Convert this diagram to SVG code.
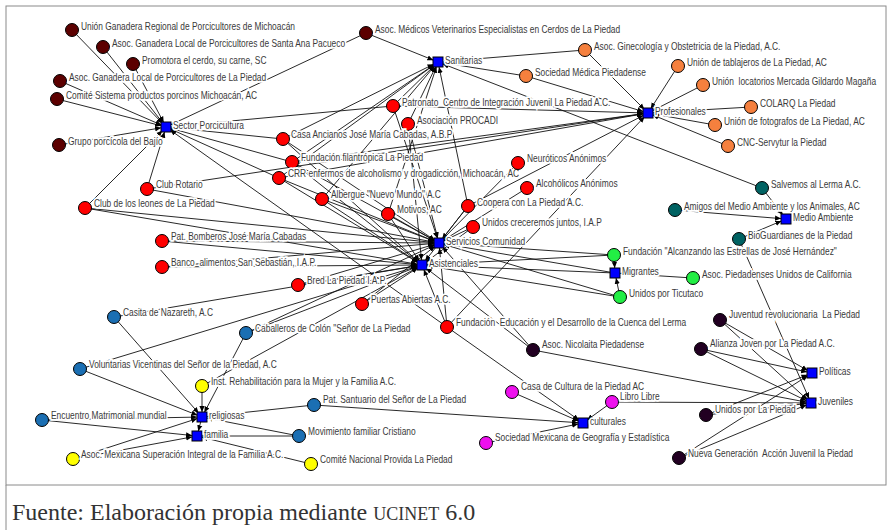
<svg xmlns="http://www.w3.org/2000/svg" width="890" height="530" viewBox="0 0 890 530">
<defs>
<marker id="arr" viewBox="0 0 6 6" refX="11" refY="3" markerWidth="6" markerHeight="6" markerUnits="userSpaceOnUse" orient="auto"><path d="M0,0.4 L6,3 L0,5.6 Z" fill="#000"/></marker>
<style>
.e line{stroke:#111;stroke-width:.9;fill:none}
.e .a line{marker-end:url(#arr)}
.n circle{stroke:#000;stroke-width:1}
.h rect{fill:#0000ff;stroke:#000;stroke-width:1}
.lb{font-family:"Liberation Sans",Arial,sans-serif;font-size:10px;fill:#3a3a3a;stroke:#fff;stroke-width:3.6;stroke-linejoin:miter;paint-order:stroke;white-space:pre}
.c1{fill:#5c0000}
.c2{fill:#ff0000}
.c3{fill:#f5803e}
.c4{fill:#006262}
.c5{fill:#22ee44}
.c6{fill:#1b6fb3}
.c7{fill:#ffff00}
.c8{fill:#ee10ee}
.c9{fill:#220022}
</style>
</defs>
<rect x="0" y="0" width="890" height="530" fill="#fff"/>
<rect x="6" y="6" width="880" height="479" fill="none" stroke="#8a8a8a"/>
<line x1="6" y1="485" x2="6" y2="530" stroke="#8a8a8a"/>

<g id="connectors" class="e">
<g class="a">
<!-- Sector Porcicultura -->
<line x1="72" y1="30" x2="166" y2="127"/>
<line x1="103" y1="47" x2="166" y2="127"/>
<line x1="133" y1="64" x2="166" y2="127"/>
<line x1="60" y1="81" x2="166" y2="127"/>
<line x1="57" y1="99" x2="166" y2="127"/>
<line x1="59" y1="145" x2="166" y2="127"/>
<line x1="366" y1="33" x2="166" y2="127"/>
<line x1="393" y1="106" x2="166" y2="127"/>
<line x1="283" y1="139" x2="166" y2="127"/>
<line x1="292" y1="162" x2="166" y2="127"/>
<line x1="279" y1="178" x2="166" y2="127"/>
<line x1="147" y1="189" x2="166" y2="127"/>
<line x1="85" y1="208" x2="166" y2="127"/>
<line x1="447" y1="327" x2="166" y2="127"/>
<!-- Sanitarias -->
<line x1="366" y1="33" x2="438" y2="62"/>
<line x1="585" y1="50" x2="438" y2="62"/>
<line x1="526" y1="76" x2="438" y2="62"/>
<line x1="762" y1="188" x2="438" y2="62"/>
<line x1="393" y1="106" x2="438" y2="62"/>
<line x1="408" y1="124" x2="438" y2="62"/>
<line x1="283" y1="139" x2="438" y2="62"/>
<line x1="292" y1="162" x2="438" y2="62"/>
<line x1="279" y1="178" x2="438" y2="62"/>
<line x1="322" y1="199" x2="438" y2="62"/>
<line x1="388" y1="214" x2="438" y2="62"/>
<line x1="468" y1="206" x2="438" y2="62"/>
<!-- Profesionales -->
<line x1="585" y1="50" x2="648" y2="113"/>
<line x1="526" y1="76" x2="648" y2="113"/>
<line x1="678" y1="66" x2="648" y2="113"/>
<line x1="703" y1="85" x2="648" y2="113"/>
<line x1="751" y1="107" x2="648" y2="113"/>
<line x1="715" y1="125" x2="648" y2="113"/>
<line x1="728" y1="146" x2="648" y2="113"/>
<line x1="393" y1="106" x2="648" y2="113"/>
<line x1="292" y1="162" x2="648" y2="113"/>
<line x1="279" y1="178" x2="648" y2="113"/>
<line x1="147" y1="189" x2="648" y2="113"/>
<line x1="447" y1="327" x2="648" y2="113"/>
<line x1="468" y1="206" x2="648" y2="113"/>
<!-- Medio Ambiente -->
<line x1="762" y1="188" x2="786" y2="219"/>
<line x1="675" y1="210" x2="786" y2="219"/>
<line x1="739" y1="239" x2="786" y2="219"/>
<!-- Migrantes -->
<line x1="614" y1="255" x2="615" y2="273"/>
<line x1="693" y1="278" x2="615" y2="273"/>
<line x1="620" y1="297" x2="615" y2="273"/>
<!-- Servicios Comunidad -->
<line x1="393" y1="106" x2="439" y2="243"/>
<line x1="408" y1="124" x2="439" y2="243"/>
<line x1="283" y1="139" x2="439" y2="243"/>
<line x1="292" y1="162" x2="439" y2="243"/>
<line x1="279" y1="178" x2="439" y2="243"/>
<line x1="322" y1="199" x2="439" y2="243"/>
<line x1="388" y1="214" x2="439" y2="243"/>
<line x1="468" y1="206" x2="439" y2="243"/>
<line x1="473" y1="227" x2="439" y2="243"/>
<line x1="518" y1="163" x2="439" y2="243"/>
<line x1="527" y1="188" x2="439" y2="243"/>
<line x1="147" y1="189" x2="439" y2="243"/>
<line x1="85" y1="208" x2="439" y2="243"/>
<line x1="162" y1="241" x2="439" y2="243"/>
<line x1="162" y1="267" x2="439" y2="243"/>
<line x1="298" y1="285" x2="439" y2="243"/>
<line x1="362" y1="304" x2="439" y2="243"/>
<line x1="447" y1="327" x2="439" y2="243"/>
<line x1="614" y1="255" x2="439" y2="243"/>
<line x1="620" y1="297" x2="439" y2="243"/>
<line x1="533" y1="350" x2="439" y2="243"/>
<line x1="246" y1="333" x2="439" y2="243"/>
<!-- Asistenciales -->
<line x1="408" y1="124" x2="422" y2="265"/>
<line x1="283" y1="139" x2="422" y2="265"/>
<line x1="292" y1="162" x2="422" y2="265"/>
<line x1="279" y1="178" x2="422" y2="265"/>
<line x1="322" y1="199" x2="422" y2="265"/>
<line x1="388" y1="214" x2="422" y2="265"/>
<line x1="468" y1="206" x2="422" y2="265"/>
<line x1="473" y1="227" x2="422" y2="265"/>
<line x1="85" y1="208" x2="422" y2="265"/>
<line x1="162" y1="241" x2="422" y2="265"/>
<line x1="162" y1="267" x2="422" y2="265"/>
<line x1="298" y1="285" x2="422" y2="265"/>
<line x1="362" y1="304" x2="422" y2="265"/>
<line x1="447" y1="327" x2="422" y2="265"/>
<line x1="114" y1="317" x2="422" y2="265"/>
<line x1="246" y1="333" x2="422" y2="265"/>
<line x1="80" y1="369" x2="422" y2="265"/>
<line x1="202" y1="386" x2="422" y2="265"/>
<line x1="614" y1="255" x2="422" y2="265"/>
<line x1="620" y1="297" x2="422" y2="265"/>
<line x1="533" y1="350" x2="422" y2="265"/>
<!-- religiosas -->
<line x1="114" y1="317" x2="202" y2="417"/>
<line x1="246" y1="333" x2="202" y2="417"/>
<line x1="80" y1="369" x2="202" y2="417"/>
<line x1="42" y1="420" x2="202" y2="417"/>
<line x1="299" y1="436" x2="202" y2="417"/>
<line x1="314" y1="405" x2="202" y2="417"/>
<line x1="202" y1="386" x2="202" y2="417"/>
<line x1="73" y1="459" x2="202" y2="417"/>
<!-- familia -->
<line x1="42" y1="420" x2="197" y2="436"/>
<line x1="299" y1="436" x2="197" y2="436"/>
<line x1="73" y1="459" x2="197" y2="436"/>
<line x1="311" y1="464" x2="197" y2="436"/>
<line x1="202" y1="417" x2="197" y2="436"/>
<!-- culturales -->
<line x1="512" y1="392" x2="583" y2="423"/>
<line x1="486" y1="443" x2="583" y2="423"/>
<line x1="612" y1="402" x2="583" y2="423"/>
<line x1="314" y1="405" x2="583" y2="423"/>
<line x1="447" y1="327" x2="583" y2="423"/>
<!-- Politicas -->
<line x1="720" y1="320" x2="812" y2="373"/>
<line x1="701" y1="349" x2="812" y2="373"/>
<line x1="706" y1="415" x2="812" y2="373"/>
<line x1="679" y1="458" x2="812" y2="373"/>
<!-- Juveniles -->
<line x1="720" y1="320" x2="811" y2="403"/>
<line x1="701" y1="349" x2="811" y2="403"/>
<line x1="706" y1="415" x2="811" y2="403"/>
<line x1="679" y1="458" x2="811" y2="403"/>
<line x1="533" y1="350" x2="811" y2="403"/>
<line x1="612" y1="402" x2="811" y2="403"/>
<line x1="739" y1="239" x2="811" y2="403"/>
</g>
<line x1="439" y1="243" x2="615" y2="273"/>
<line x1="422" y1="265" x2="615" y2="273"/>
</g>

<!-- circle nodes -->
<g id="n-ugr" class="n"><circle class="c1" cx="72" cy="30" r="6.5"/><text class="lb" transform="matrix(.84 0 0 1 81 30)">Unión Ganadera Regional de Porcicultores de Michoacán</text></g>
<g id="n-agsa" class="n"><circle class="c1" cx="103" cy="47" r="6.5"/><text class="lb" transform="matrix(.84 0 0 1 112 47)">Asoc. Ganadera Local de Porcicultores de Santa Ana Pacueco</text></g>
<g id="n-prom" class="n"><circle class="c1" cx="133" cy="64" r="6.5"/><text class="lb" transform="matrix(.84 0 0 1 142 64)">Promotora el cerdo, su carne, SC</text></g>
<g id="n-aglp" class="n"><circle class="c1" cx="60" cy="81" r="6.5"/><text class="lb" transform="matrix(.84 0 0 1 69 81)">Asoc. Ganadera Local de Porcicultores de La Piedad</text></g>
<g id="n-csp" class="n"><circle class="c1" cx="57" cy="99" r="6.5"/><text class="lb" transform="matrix(.84 0 0 1 66 99)">Comité Sistema productos porcinos Michoacán, AC</text></g>
<g id="n-gpb" class="n"><circle class="c1" cx="59" cy="145" r="6.5"/><text class="lb" transform="matrix(.84 0 0 1 68 145)">Grupo porcícola del Bajío</text></g>
<g id="n-amv" class="n"><circle class="c1" cx="366" cy="33" r="6.5"/><text class="lb" transform="matrix(.84 0 0 1 375 33)">Asoc. Médicos Veterinarios Especialistas en Cerdos de La Piedad</text></g>

<g id="n-gine" class="n"><circle class="c3" cx="585" cy="50" r="6.5"/><text class="lb" transform="matrix(.84 0 0 1 594 50)">Asoc. Ginecología y Obstetricia de la Piedad, A.C.</text></g>
<g id="n-smp" class="n"><circle class="c3" cx="526" cy="76" r="6.5"/><text class="lb" transform="matrix(.84 0 0 1 535 76)">Sociedad Médica Piedadense</text></g>
<g id="n-tabl" class="n"><circle class="c3" cx="678" cy="66" r="6.5"/><text class="lb" transform="matrix(.84 0 0 1 687 66)">Unión de tablajeros de La Piedad, AC</text></g>
<g id="n-loca" class="n"><circle class="c3" cx="703" cy="85" r="6.5"/><text class="lb" transform="matrix(.84 0 0 1 712 85)">Unión  locatorios Mercada Gildardo Magaña</text></g>
<g id="n-colarq" class="n"><circle class="c3" cx="751" cy="107" r="6.5"/><text class="lb" transform="matrix(.84 0 0 1 760 107)">COLARQ La Piedad</text></g>
<g id="n-foto" class="n"><circle class="c3" cx="715" cy="125" r="6.5"/><text class="lb" transform="matrix(.84 0 0 1 724 125)">Unión de fotografos de La Piedad, AC</text></g>
<g id="n-cnc" class="n"><circle class="c3" cx="728" cy="146" r="6.5"/><text class="lb" transform="matrix(.84 0 0 1 737 146)">CNC-Servytur la Piedad</text></g>

<g id="n-salv" class="n"><circle class="c4" cx="762" cy="188" r="6.5"/><text class="lb" transform="matrix(.84 0 0 1 771 188)">Salvemos al Lerma A.C.</text></g>
<g id="n-amig" class="n"><circle class="c4" cx="675" cy="210" r="6.5"/><text class="lb" transform="matrix(.84 0 0 1 684 210)">Amigos del Medio Ambiente y los Animales, AC</text></g>
<g id="n-biog" class="n"><circle class="c4" cx="739" cy="239" r="6.5"/><text class="lb" transform="matrix(.84 0 0 1 748 239)">BioGuardianes de la Piedad</text></g>

<g id="n-falc" class="n"><circle class="c5" cx="614" cy="255" r="6.5"/><text class="lb" transform="matrix(.84 0 0 1 623 255)">Fundación "Alcanzando las Estrellas de José Hernández"</text></g>
<g id="n-apuc" class="n"><circle class="c5" cx="693" cy="278" r="6.5"/><text class="lb" transform="matrix(.84 0 0 1 702 278)">Asoc. Piedadenses Unidos de California</text></g>
<g id="n-tic" class="n"><circle class="c5" cx="620" cy="297" r="6.5"/><text class="lb" transform="matrix(.84 0 0 1 629 297)">Unidos por Ticutaco</text></g>

<g id="n-patr" class="n"><circle class="c2" cx="393" cy="106" r="6.5"/><text class="lb" transform="matrix(.84 0 0 1 402 106)">Patronato  Centro de Integración Juvenil La Piedad A.C.</text></g>
<g id="n-proc" class="n"><circle class="c2" cx="408" cy="124" r="6.5"/><text class="lb" transform="matrix(.84 0 0 1 417 124)">Asociación PROCADI</text></g>
<g id="n-casa" class="n"><circle class="c2" cx="283" cy="139" r="6.5"/><text class="lb" transform="matrix(.84 0 0 1 291 138)">Casa Ancianos José María Cabadas, A.B.P</text></g>
<g id="n-ffil" class="n"><circle class="c2" cx="292" cy="162" r="6.5"/><text class="lb" transform="matrix(.84 0 0 1 301 161)">Fundación filantrópica La Piedad</text></g>
<g id="n-crr" class="n"><circle class="c2" cx="279" cy="178" r="6.5"/><text class="lb" transform="matrix(.84 0 0 1 288 177)">CRR enfermos de alcoholismo y drogadicción, Michoacán, AC</text></g>
<g id="n-alb" class="n"><circle class="c2" cx="322" cy="199" r="6.5"/><text class="lb" transform="matrix(.84 0 0 1 331 198)">Albergue "Nuevo Mundo" A.C</text></g>
<g id="n-mot" class="n"><circle class="c2" cx="388" cy="214" r="6.5"/><text class="lb" transform="matrix(.84 0 0 1 397 213)">Motivos, AC</text></g>
<g id="n-coop" class="n"><circle class="c2" cx="468" cy="206" r="6.5"/><text class="lb" transform="matrix(.84 0 0 1 477 206)">Coopera con La Piedad A.C.</text></g>
<g id="n-ucj" class="n"><circle class="c2" cx="473" cy="227" r="6.5"/><text class="lb" transform="matrix(.84 0 0 1 482 226)">Unidos creceremos juntos, I.A.P</text></g>
<g id="n-neu" class="n"><circle class="c2" cx="518" cy="163" r="6.5"/><text class="lb" transform="matrix(.84 0 0 1 527 162)">Neuróticos Anónimos</text></g>
<g id="n-alc" class="n"><circle class="c2" cx="527" cy="188" r="6.5"/><text class="lb" transform="matrix(.84 0 0 1 536 187)">Alcohólicos Anónimos</text></g>
<g id="n-rot" class="n"><circle class="c2" cx="147" cy="189" r="6.5"/><text class="lb" transform="matrix(.84 0 0 1 156 188)">Club Rotario</text></g>
<g id="n-leo" class="n"><circle class="c2" cx="85" cy="208" r="6.5"/><text class="lb" transform="matrix(.84 0 0 1 94 207)">Club de los leones de La Piedad</text></g>
<g id="n-bomb" class="n"><circle class="c2" cx="162" cy="241" r="6.5"/><text class="lb" transform="matrix(.84 0 0 1 171 240)">Pat. Bomberos José María Cabadas</text></g>
<g id="n-banco" class="n"><circle class="c2" cx="162" cy="267" r="6.5"/><text class="lb" transform="matrix(.84 0 0 1 171 266)">Banco  alimentos San Sebastián, I.A.P.</text></g>
<g id="n-bred" class="n"><circle class="c2" cx="298" cy="285" r="6.5"/><text class="lb" transform="matrix(.84 0 0 1 307 284)">Bred La Piedad I.A.P.</text></g>
<g id="n-puer" class="n"><circle class="c2" cx="362" cy="304" r="6.5"/><text class="lb" transform="matrix(.84 0 0 1 371 303)">Puertas Abiertas A.C.</text></g>
<g id="n-fedu" class="n"><circle class="c2" cx="447" cy="327" r="6.5"/><text class="lb" transform="matrix(.84 0 0 1 456 326)">Fundación  Educación y el Desarrollo de la Cuenca del Lerma</text></g>

<g id="n-naz" class="n"><circle class="c6" cx="114" cy="317" r="6.5"/><text class="lb" transform="matrix(.84 0 0 1 123 316)">Casita de Nazareth, A.C</text></g>
<g id="n-cab" class="n"><circle class="c6" cx="246" cy="333" r="6.5"/><text class="lb" transform="matrix(.84 0 0 1 255 332)">Caballeros de Colón "Señor de La Piedad</text></g>
<g id="n-vol" class="n"><circle class="c6" cx="80" cy="369" r="6.5"/><text class="lb" transform="matrix(.84 0 0 1 89 368)">Voluntarias Vicentinas del Señor de la Piedad, A.C</text></g>
<g id="n-enc" class="n"><circle class="c6" cx="42" cy="420" r="6.5"/><text class="lb" transform="matrix(.84 0 0 1 51 419)">Encuentro Matrimonial mundial</text></g>
<g id="n-mov" class="n"><circle class="c6" cx="299" cy="436" r="6.5"/><text class="lb" transform="matrix(.84 0 0 1 308 435)">Movimiento familiar Cristiano</text></g>
<g id="n-sant" class="n"><circle class="c6" cx="314" cy="405" r="6.5"/><text class="lb" transform="matrix(.84 0 0 1 323 403)">Pat. Santuario del Señor de La Piedad</text></g>

<g id="n-inst" class="n"><circle class="c7" cx="202" cy="386" r="6.5"/><text class="lb" transform="matrix(.84 0 0 1 211 385)">Inst. Rehabilitación para la Mujer y la Familia A.C.</text></g>
<g id="n-amsi" class="n"><circle class="c7" cx="73" cy="459" r="6.5"/><text class="lb" transform="matrix(.84 0 0 1 81 458)">Asoc. Mexicana Superación Integral de la Familia A.C.</text></g>
<g id="n-prov" class="n"><circle class="c7" cx="311" cy="464" r="6.5"/><text class="lb" transform="matrix(.84 0 0 1 320 463)">Comité Nacional Provida La Piedad</text></g>

<g id="n-ccul" class="n"><circle class="c8" cx="512" cy="392" r="6.5"/><text class="lb" transform="matrix(.84 0 0 1 521 390)">Casa de Cultura de la Piedad AC</text></g>
<g id="n-smge" class="n"><circle class="c8" cx="486" cy="443" r="6.5"/><text class="lb" transform="matrix(.84 0 0 1 495 441)">Sociedad Mexicana de Geografía y Estadística</text></g>
<g id="n-libro" class="n"><circle class="c8" cx="612" cy="402" r="6.5"/><text class="lb" transform="matrix(.84 0 0 1 620 400)">Libro Libre</text></g>

<g id="n-nic" class="n"><circle class="c9" cx="533" cy="350" r="6.5"/><text class="lb" transform="matrix(.84 0 0 1 542 348)">Asoc. Nicolaita Piedadense</text></g>
<g id="n-juvr" class="n"><circle class="c9" cx="720" cy="320" r="6.5"/><text class="lb" transform="matrix(.84 0 0 1 729 318)">Juventud revolucionaria  La Piedad</text></g>
<g id="n-alj" class="n"><circle class="c9" cx="701" cy="349" r="6.5"/><text class="lb" transform="matrix(.84 0 0 1 710 347)">Alianza Joven por La Piedad A.C.</text></g>
<g id="n-ulp" class="n"><circle class="c9" cx="706" cy="415" r="6.5"/><text class="lb" transform="matrix(.84 0 0 1 715 413)">Unidos por La Piedad</text></g>
<g id="n-nga" class="n"><circle class="c9" cx="679" cy="458" r="6.5"/><text class="lb" transform="matrix(.84 0 0 1 688 457)">Nueva Generación  Acción Juvenil la Piedad</text></g>

<!-- hub nodes -->
<g id="hub-porc" class="h"><rect x="161" y="122" width="10" height="10"/><text class="lb" transform="matrix(.84 0 0 1 173 129)">Sector Porcicultura</text></g>
<g id="hub-sanit" class="h"><rect x="433" y="57" width="10" height="10"/><text class="lb" transform="matrix(.84 0 0 1 445 64)">Sanitarias</text></g>
<g id="hub-prof" class="h"><rect x="643" y="108" width="10" height="10"/><text class="lb" transform="matrix(.84 0 0 1 655 115)">Profesionales</text></g>
<g id="hub-serv" class="h"><rect x="434" y="238" width="10" height="10"/><text class="lb" transform="matrix(.84 0 0 1 446 245)">Servicios Comunidad</text></g>
<g id="hub-asis" class="h"><rect x="417" y="260" width="10" height="10"/><text class="lb" transform="matrix(.84 0 0 1 429 267)">Asistenciales</text></g>
<g id="hub-medio" class="h"><rect x="781" y="214" width="10" height="10"/><text class="lb" transform="matrix(.84 0 0 1 793 221)">Medio Ambiente</text></g>
<g id="hub-migr" class="h"><rect x="610" y="268" width="10" height="10"/><text class="lb" transform="matrix(.84 0 0 1 622 275)">Migrantes</text></g>
<g id="hub-relig" class="h"><rect x="197" y="412" width="10" height="10"/><text class="lb" transform="matrix(.84 0 0 1 209 419)">religiosas</text></g>
<g id="hub-fam" class="h"><rect x="192" y="431" width="10" height="10"/><text class="lb" transform="matrix(.84 0 0 1 204 438)">familia</text></g>
<g id="hub-cult" class="h"><rect x="578" y="418" width="10" height="10"/><text class="lb" transform="matrix(.84 0 0 1 590 425)">culturales</text></g>
<g id="hub-pol" class="h"><rect x="807" y="368" width="10" height="10"/><text class="lb" transform="matrix(.84 0 0 1 819 375)">Políticas</text></g>
<g id="hub-juv" class="h"><rect x="806" y="398" width="10" height="10"/><text class="lb" transform="matrix(.84 0 0 1 818 405)">Juveniles</text></g>

<text x="12" y="520" font-family="'Liberation Serif',serif" font-size="24" fill="#333">Fuente: Elaboración propia mediante <tspan font-size="18">UCINET</tspan> 6.0</text>
</svg>
